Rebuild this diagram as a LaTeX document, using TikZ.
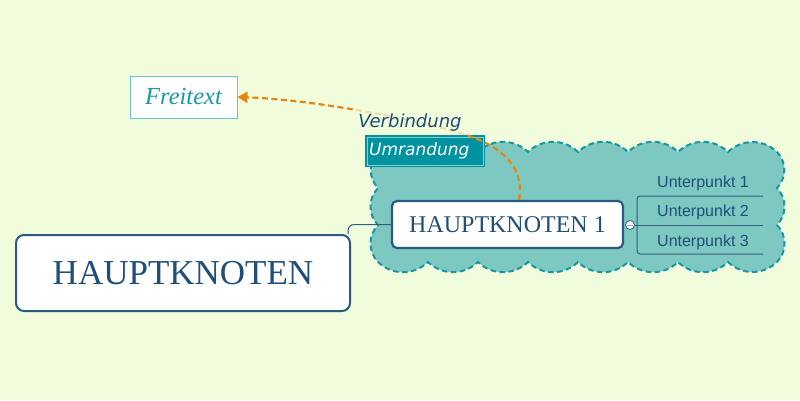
\documentclass[tikz,border=0pt]{standalone}
\usepackage{fontspec}
\setmainfont{Liberation Serif}
\newfontfamily\subfont{Liberation Sans}
\newfontfamily\labfont{DejaVu Sans}
\usetikzlibrary{arrows.meta,calc}
\definecolor{bgc}{HTML}{F1FCDD}
\definecolor{darkblue}{HTML}{1F4E79}
\definecolor{boxline}{HTML}{2A5A82}
\definecolor{cloudfill}{HTML}{7DC9C1}
\definecolor{cloudline}{HTML}{1796A4}
\definecolor{umrfill}{HTML}{00939F}
\definecolor{umrin}{HTML}{7FD0D6}
\definecolor{freeline}{HTML}{6BC5CF}
\definecolor{freetext}{HTML}{1898AA}
\definecolor{orangec}{HTML}{E8850E}
\definecolor{subline}{HTML}{2F5F86}
\tikzset{
  x=1pt,y=1pt,
  mainbox/.style={draw=boxline, line width=2pt, fill=white, rounded corners=8pt,
    minimum width=334pt, minimum height=76pt, inner sep=0pt, text=darkblue,
    font=\fontsize{35}{40}\selectfont},
  hkbox/.style={draw=boxline, line width=2.2pt, fill=white, rounded corners=5pt,
    minimum width=231pt, minimum height=47pt, inner sep=0pt, text=darkblue,
    font=\fontsize{24}{28}\selectfont},
  freebox/.style={draw=freeline, line width=1pt, fill=white,
    minimum width=107pt, minimum height=42pt, inner sep=0pt, text=freetext,
    font=\fontsize{24.5}{28}\selectfont\itshape},
  umrbox/.style={fill=umrfill, anchor=west, minimum height=32pt, text width=112pt,
    inner xsep=4pt, inner ysep=0pt, align=left, text=white,
    font=\labfont\fontsize{17}{20}\selectfont\itshape},
  umrinner/.style={draw=umrin, line width=0.6pt},
  cloud/.style={draw=cloudline, fill=cloudfill, line width=2pt,
    dash pattern=on 5.5pt off 3.5pt},
  conn/.style={draw=orangec, line width=2.2pt, dash pattern=on 6pt off 3.5pt,
    -{Triangle[length=10pt,width=11pt]}},
  verb/.style={fill=bgc, fill opacity=0.75, text opacity=1, text=darkblue,
    inner sep=4pt, font=\labfont\fontsize{18}{21}\selectfont\itshape},
  sub/.style={text=darkblue, inner sep=0pt, anchor=base, font=\subfont\fontsize{16}{19}\selectfont},
  sublinestyle/.style={draw=subline, line width=1pt},
  mainconn/.style={draw=subline, line width=1pt},
  collapser/.style={circle, draw=subline, fill=white, line width=0.8pt, minimum size=9pt, inner sep=0pt},
  bump/.style={bend left=44}
}
\begin{document}
\begin{tikzpicture}
\useasboundingbox (0,0) rectangle (800,-400);
\fill[bgc] (0,0) rectangle (800,-400);
% cloud boundary
\path[cloud] (378,-152)
  to[bump] (428,-152) to[bump] (478,-152) to[bump] (528,-152)
  to[bump] (578,-152) to[bump] (628,-152) to[bump] (678,-152)
  to[bump] (728,-152) to[bump] (777,-152)
  to[bump] (777,-188) to[bump] (777,-225) to[bump] (777,-262)
  to[bump] (728,-262) to[bump] (678,-262) to[bump] (628,-262)
  to[bump] (578,-262) to[bump] (528,-262) to[bump] (478,-262)
  to[bump] (428,-262) to[bump] (378,-262)
  to[bump] (378,-225) to[bump] (378,-188) to[bump] (378,-152) -- cycle;
% nodes
\node[mainbox] (hk) at (183,-273) {HAUPTKNOTEN};
\node[hkbox] (hk1) at (507.5,-224.5) {HAUPTKNOTEN 1};
\node[freebox] (fr) at (183.5,-97) {Freitext};
\node[umrbox] (umr) at (365,-151) {Umrandung};
\draw[umrinner] ([shift={(2pt,-2pt)}]umr.north west) rectangle ([shift={(-2pt,2pt)}]umr.south east);
% main connector
\draw[mainconn, rounded corners=6pt] ($(hk.north east)+(-3,0)$) |- (hk1.west);
% sub-branches
\node[collapser] (col) at (630,-225) {};
\draw[draw=gray!70, line width=0.9pt] ([xshift=2pt]col.west) -- ([xshift=-2pt]col.east);
\coordinate (b1) at (637,-196);
\coordinate (e1) at (763,-196);
\coordinate (e2) at (763,-225);
\coordinate (b3) at (637,-254);
\coordinate (e3) at (763,-254);
\draw[sublinestyle, rounded corners=3pt] (e1) -- (b1) -- (b3) -- (e3);
\draw[sublinestyle] (col.east) -- (e2);
\node[sub] (u1) at (703,-187) {Unterpunkt 1};
\node[sub] (u2) at (703,-216) {Unterpunkt 2};
\node[sub] (u3) at (703,-246) {Unterpunkt 3};
% relation
\draw[conn] ([xshift=11.5pt]hk1.north) .. controls (525,-165) and (500,-145) .. (460,-133)
  .. controls (420,-121) and (320,-100) .. (fr.east);
\node[verb, anchor=base] (verb) at (410,-127) {Verbindung};
\end{tikzpicture}
\end{document}
